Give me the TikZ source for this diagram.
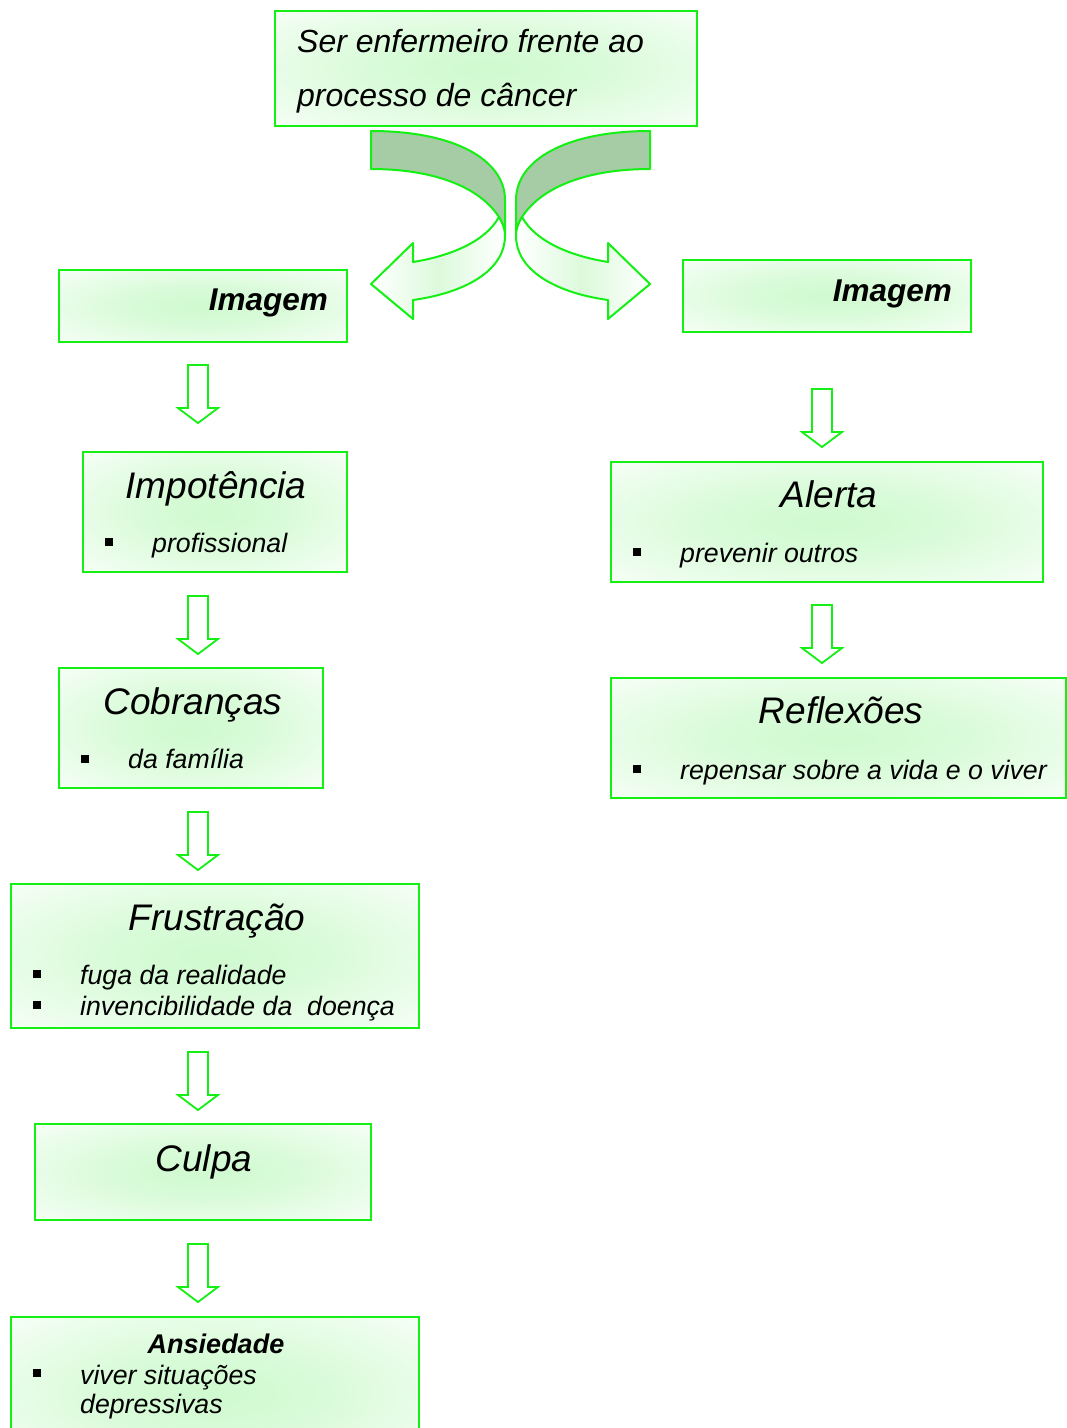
\documentclass[tikz,border=0pt]{standalone}
\usepackage{fontspec}
\setmainfont{Liberation Sans}
\definecolor{boxgreen}{RGB}{20,240,20}
\definecolor{glow}{RGB}{208,250,208}
\definecolor{darkband}{RGB}{165,204,165}
\definecolor{lightband}{RGB}{220,250,220}
\pgfdeclareradialshading{myglow}{\pgfpoint{0bp}{0bp}}{color(0bp)=(glow); color(12bp)=(glow!85!white); color(30bp)=(glow!35!white); color(42bp)=(white); color(50bp)=(white)}
\begin{document}
\begin{tikzpicture}[x=1pt,y=-1pt,
  box/.style={draw=boxgreen, line width=2pt, shading=myglow, inner sep=0pt},
  big/.style={font=\fontsize{37}{44}\selectfont\itshape, inner sep=0pt, anchor=base},
  item/.style={font=\fontsize{26.7}{32}\selectfont\itshape, inner sep=0pt, anchor=base west},
  head/.style={font=\fontsize{32}{38}\selectfont\itshape, inner sep=0pt, anchor=base west},
  bul/.style={fill=black, minimum size=8pt, inner sep=0pt},
  downarr/.pic={\draw[boxgreen, line width=1.8pt, fill=white, line join=miter]
     (-10,0) -- (10,0) -- (10,43) -- (20,43) -- (0,58) -- (-20,43) -- (-10,43) -- cycle;},
  band/.style={draw=boxgreen, line width=2pt, line join=round}
]
\useasboundingbox (0,0) rectangle (1067,1428);

% boxes
\node[box, minimum width=422pt, minimum height=115pt] (top) at (486,68.5) {};
\node[box, minimum width=288pt, minimum height=72pt] (imgL) at (203,306) {};
\node[box, minimum width=288pt, minimum height=72pt] (imgR) at (827,296) {};
\node[box, minimum width=264pt, minimum height=120pt] (imp) at (215,512) {};
\node[box, minimum width=432pt, minimum height=120pt] (alert) at (827,522) {};
\node[box, minimum width=264pt, minimum height=120pt] (cob) at (191,728) {};
\node[box, minimum width=455pt, minimum height=120pt] (refl) at (838.5,738) {};
\node[box, minimum width=408pt, minimum height=144pt] (frus) at (215,956) {};
\node[box, minimum width=336pt, minimum height=96pt] (culpa) at (203,1172) {};
\node[box, minimum width=408pt, minimum height=153pt] (ans) at (215,1393.5) {};

% texts
\node[head] (t1) at (297,52) {Ser enfermeiro frente ao};
\node[head] (t2) at (297,106) {processo de câncer};

\node[font=\fontsize{31.5}{38}\selectfont\bfseries\itshape, inner sep=0pt, anchor=base east] (imgLt) at (328,310) {Imagem};
\node[font=\fontsize{31.5}{38}\selectfont\bfseries\itshape, inner sep=0pt, anchor=base east] (imgRt) at (952,301) {Imagem};

\node[big] (impt) at (216,498) {Impotência};
\node[bul] (b1) at (109,542) {};
\node[item] (i1) at (152,552) {profissional};

\node[big] (alertt) at (829,507) {Alerta};
\node[bul] (b2) at (637,552) {};
\node[item] (i2) at (680,562) {prevenir outros};

\node[big] (cobt) at (193,714) {Cobranças};
\node[bul] (b3) at (85,759) {};
\node[item] (i3) at (128,768) {da família};

\node[big] (reflt) at (841,723) {Reflexões};
\node[bul] (b4) at (637,769) {};
\node[item] (i4) at (680,779) {repensar sobre a vida e o viver};

\node[big] (frust) at (217,930) {Frustração};
\node[bul] (b5) at (37,974) {};
\node[item] (i5) at (80,984) {fuga da realidade};
\node[bul] (b6) at (37,1005) {};
\node[item] (i6) at (80,1015) {invencibilidade da\ \ doença};

\node[big] (culpat) at (204,1171) {Culpa};

\node[font=\fontsize{27}{32}\selectfont\bfseries\itshape, inner sep=0pt, anchor=base] (anst) at (216,1353) {Ansiedade};
\node[bul] (b7) at (37,1373) {};
\node[item] (i7) at (80,1384) {viver situações};
\node[item] (i8) at (80,1413) {depressivas};

% down arrows
\pic at (198,365) {downarr};
\pic at (198,596) {downarr};
\pic at (198,812) {downarr};
\pic at (198,1052) {downarr};
\pic at (198,1244) {downarr};
\pic at (822,389) {downarr};
\pic at (822,605) {downarr};

% curved arrows
\begin{scope}
\draw[band, fill=darkband] (371,131) .. controls (455,131) and (505,160) .. (505,200) -- (505,236)
   .. controls (505,228) and (502,222) .. (499,217)
   .. controls (478,185) and (430,169) .. (371,169) -- cycle;
\draw[band, left color=white, right color=white, middle color=lightband] (499,217) .. controls (485,242) and (450,256) .. (413,262)
   -- (413,243) -- (371,284) -- (413,319) -- (413,300)
   .. controls (470,292) and (505,268) .. (505,236)
   .. controls (505,228) and (502,222) .. (499,217) -- cycle;
\end{scope}
\begin{scope}[shift={(1021,0)}, xscale=-1]
\draw[band, fill=darkband] (371,131) .. controls (455,131) and (505,160) .. (505,200) -- (505,236)
   .. controls (505,228) and (502,222) .. (499,217)
   .. controls (478,185) and (430,169) .. (371,169) -- cycle;
\draw[band, left color=white, right color=white, middle color=lightband] (499,217) .. controls (485,242) and (450,256) .. (413,262)
   -- (413,243) -- (371,284) -- (413,319) -- (413,300)
   .. controls (470,292) and (505,268) .. (505,236)
   .. controls (505,228) and (502,222) .. (499,217) -- cycle;
\end{scope}
\end{tikzpicture}
\end{document}
